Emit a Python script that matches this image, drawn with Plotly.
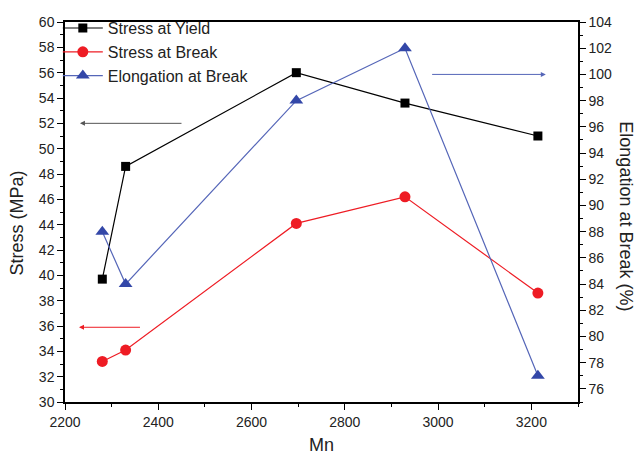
import plotly.graph_objects as go

mn = [2280, 2330, 2696, 2929, 3214]
stress_yield = [39.7, 48.6, 56.0, 53.6, 51.0]
stress_break = [33.2, 34.1, 44.1, 46.2, 38.6]
elong_break = [88.0, 84.0, 98.0, 102.0, 77.0]

FONT = "Liberation Sans, Arial, sans-serif"
BLUE = "#3347a8"
BLUE_L = "#5566b8"
RED = "#ee1c24"
TXT = "#222"

fig = go.Figure()
fig.add_trace(go.Scatter(x=mn, y=stress_yield, name="Stress at Yield", mode="lines+markers",
                         line=dict(color="black", width=1.2),
                         marker=dict(symbol="square", size=9, color="black")))
fig.add_trace(go.Scatter(x=mn, y=stress_break, name="Stress at Break", mode="lines+markers",
                         line=dict(color=RED, width=1.2),
                         marker=dict(symbol="circle", size=11, color=RED)))
fig.add_trace(go.Scatter(x=mn, y=elong_break, name="Elongation at Break", mode="lines+markers",
                         yaxis="y2",
                         line=dict(color=BLUE_L, width=1.2),
                         marker=dict(symbol="triangle-up", size=12, color=BLUE)))

tickfont = dict(family=FONT, size=14, color=TXT)
fig.update_layout(
    width=636, height=455,
    margin=dict(l=65, r=58, t=21, b=53),
    paper_bgcolor="white", plot_bgcolor="white",
    font=dict(family=FONT, color=TXT),
    showlegend=True,
    legend=dict(x=-0.014, y=1.026, xanchor="left", yanchor="top",
                bgcolor="rgba(0,0,0,0)", font=dict(family=FONT, size=16, color=TXT),
                tracegroupgap=0, itemwidth=40),
    xaxis=dict(range=[2200, 3300], tickvals=[2200, 2400, 2600, 2800, 3000, 3200],
               automargin=False,
               showgrid=False, zeroline=False, showline=True, linecolor="black", linewidth=1.5,
               mirror=True, ticks="outside", ticklen=6, tickwidth=1.2, tickcolor="black",
               minor=dict(dtick=100, ticks="outside", ticklen=3, tickcolor="black"),
               tickfont=tickfont),
    yaxis=dict(range=[30, 60], dtick=2, showgrid=False, zeroline=False, showline=True,
               automargin=False,
               linecolor="black", linewidth=1.5, ticks="outside", ticklen=6, tickwidth=1.2,
               tickcolor="black", minor=dict(dtick=1, ticks="outside", ticklen=3, tickcolor="black"),
               tickfont=tickfont),
    yaxis2=dict(range=[75, 104], tickvals=list(range(76, 105, 2)), overlaying="y", side="right",
                automargin=False,
                showgrid=False, zeroline=False, showline=True, linecolor="black", linewidth=1.5,
                ticks="outside", ticklen=6, tickwidth=1.2, tickcolor="black",
                minor=dict(dtick=1, ticks="outside", ticklen=3, tickcolor="black"),
                tickfont=tickfont),
)

title_font = dict(family=FONT, size=18, color=TXT)
fig.add_annotation(text="Mn", xref="paper", yref="paper", x=0.5, y=-0.114,
                   xanchor="center", yanchor="middle", showarrow=False, font=title_font)
fig.add_annotation(text="Stress (MPa)", xref="paper", yref="paper", x=-0.0936, y=0.472,
                   xanchor="center", yanchor="middle",
                   textangle=-90, showarrow=False, font=title_font)
fig.add_annotation(text="Elongation at Break (%)", xref="paper", yref="paper", x=1.094, y=0.488,
                   xanchor="center", yanchor="middle",
                   textangle=90, showarrow=False, font=title_font)

# direction arrows
fig.add_annotation(x=2232, y=52, ax=2453, ay=52, xref="x", yref="y", axref="x", ayref="y",
                   showarrow=True, arrowhead=2, arrowsize=1, arrowwidth=1, arrowcolor="#555", text="")
fig.add_annotation(x=2230, y=35.9, ax=2364, ay=35.9, xref="x", yref="y", axref="x", ayref="y",
                   showarrow=True, arrowhead=2, arrowsize=1, arrowwidth=1, arrowcolor=RED, text="")
fig.add_annotation(x=3231, y=100, ax=2984, ay=100, xref="x", yref="y2", axref="x", ayref="y2",
                   showarrow=True, arrowhead=2, arrowsize=1, arrowwidth=1, arrowcolor=BLUE_L, text="")

fig.write_html("out.html")
